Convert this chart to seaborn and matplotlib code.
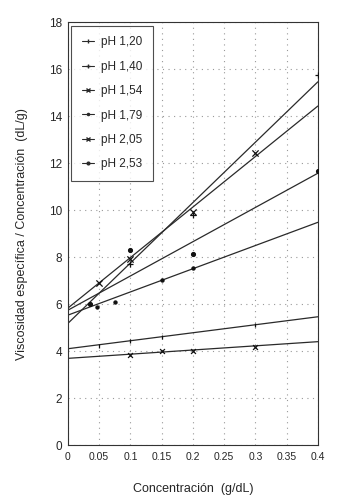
import numpy as np
import pandas as pd
import matplotlib
matplotlib.use("Agg")
import matplotlib.pyplot as plt
from matplotlib.lines import Line2D
import seaborn as sns

# --- data ---
labels = ["pH 1,20", "pH 1,40", "pH 1,54", "pH 1,79", "pH 2,05", "pH 2,53"]
markers = ["|", "+", "x", ".", "x", "o"]
msizes = [3.5, 5, 3.5, 4.5, 4.5, 2.8]

# measured points
x_120 = [0.05, 0.10, 0.15, 0.30]
y_120 = [4.22, 4.44, 4.61, 5.10]
x_140 = [0.10, 0.20, 0.40]
y_140 = [7.70, 9.79, 15.74]
x_154 = [0.10, 0.15, 0.20, 0.30]
y_154 = [3.83, 4.01, 4.01, 4.18]
x_179 = [0.047, 0.075, 0.15, 0.20]
y_179 = [5.89, 6.10, 7.02, 7.52]
x_205 = [0.05, 0.10, 0.20, 0.30]
y_205 = [6.91, 7.91, 9.93, 12.41]
x_253 = [0.036, 0.10, 0.20, 0.40]
y_253 = [5.99, 8.30, 8.13, 11.66]

# fitted lines: values at c = 0 and c = 0.4
fit_x = [0.0, 0.4]
fit_120 = [4.10, 5.46]
fit_140 = [5.18, 15.46]
fit_154 = [3.69, 4.40]
fit_179 = [5.53, 9.48]
fit_205 = [5.83, 14.43]
fit_253 = [5.74, 11.57]

pts_x = [x_120, x_140, x_154, x_179, x_205, x_253]
pts_y = [y_120, y_140, y_154, y_179, y_205, y_253]
fits = [fit_120, fit_140, fit_154, fit_179, fit_205, fit_253]

sns.set_style("white")
plt.rcParams["font.family"] = ["Liberation Sans", "DejaVu Sans"]

fig = plt.figure(figsize=(3.52, 5.04), dpi=100)
ax = fig.add_axes([0.193, 0.117, 0.710, 0.839])

for i, lab in enumerate(labels):
    line_df = pd.DataFrame({"c": fit_x, "v": fits[i]})
    sns.lineplot(data=line_df, x="c", y="v", ax=ax, color="#2a2a2a", lw=0.9)
    pt_df = pd.DataFrame({"c": pts_x[i], "v": pts_y[i]})
    sns.scatterplot(data=pt_df, x="c", y="v", ax=ax, marker=markers[i],
                    color="#111111", s=msizes[i] ** 2, linewidth=0.9,
                    edgecolor="#111111", zorder=3)

ax.set_xlim(0, 0.4)
ax.set_ylim(0, 18)
ax.set_xticks(np.arange(0, 0.41, 0.05))
ax.set_xticklabels(["0", "0.05", "0.1", "0.15", "0.2", "0.25", "0.3", "0.35", "0.4"])
ax.set_yticks(np.arange(0, 19, 2))
ax.tick_params(axis="x", labelsize=7.5, direction="in", length=3, pad=5)
ax.tick_params(axis="y", labelsize=8.5, direction="in", length=3, pad=4)
ax.grid(True, linestyle=(0, (1, 4)), color="#999999", lw=0.8)
for sp in ax.spines.values():
    sp.set_color("#333333")
    sp.set_linewidth(0.8)

ax.set_xlabel("Concentración  (g/dL)", fontsize=9, labelpad=15)
ax.set_ylabel("Viscosidad específica / Concentración  (dL/g)", fontsize=9, labelpad=15)

handles = [Line2D([0], [0], color="#2a2a2a", lw=0.8, marker=markers[i],
                  markersize=msizes[i] * 0.7) for i in range(len(labels))]
leg = ax.legend(handles, labels, loc="upper left", fontsize=8.5, frameon=True,
                fancybox=False, edgecolor="#222222", handlelength=1.0,
                handletextpad=0.6, labelspacing=1.05, borderpad=0.9,
                borderaxespad=0.3, bbox_to_anchor=(0.0, 1.0))
leg.get_frame().set_linewidth(0.8)

fig.savefig("out.png", dpi=100, facecolor="white")
